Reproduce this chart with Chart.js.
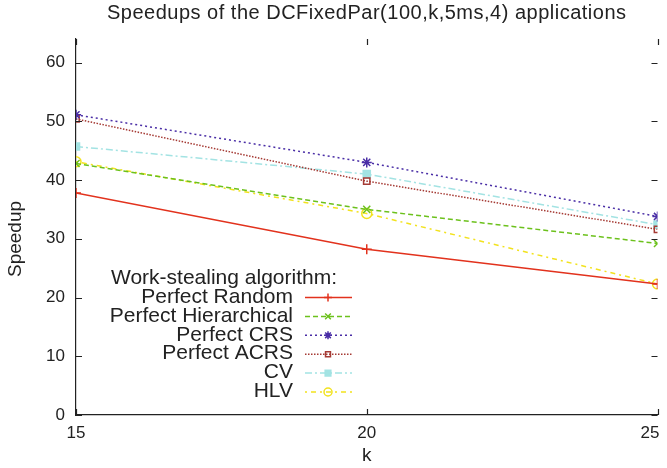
<!DOCTYPE html>
<html lang="en">
<head>
    <meta charset="UTF-8">
    <title>Speedups of the DCFixedPar applications</title>
    <script src="https://cdn.jsdelivr.net/npm/chart.js"></script>
    <style>
        html, body { margin: 0; padding: 0; background: #fff; }
        #wrap { width: 667px; height: 468px; position: relative; }
    </style>
</head>
<body>
<div id="wrap"><canvas id="speedChart"></canvas></div>

<script>
// Data
const kValues = [15, 20, 25];
const xTicks = [15, 20, 25];
const yTicks = [0, 10, 20, 30, 40, 50, 60];

const perfectRandom = [37.8, 28.2, 22.3];
const perfectHierarchical = [42.8, 35.0, 29.2];
const perfectCRS = [51.1, 43.0, 33.8];
const perfectACRS = [50.4, 39.8, 31.6];
const cvValues = [45.7, 41.0, 32.4];
const hlvValues = [43.1, 34.3, 22.3];

const seriesNames = ["Perfect Random", "Perfect Hierarchical", "Perfect CRS", "Perfect ACRS", "CV", "HLV"];

const FONT = "'Liberation Sans', Arial, sans-serif";
const LEFT = 76, RIGHT = 657.5, TOP = 39, BOTTOM = 415;

function pts(vals) {
    return vals.map((v, i) => ({ x: kValues[i], y: v }));
}

function makeSet(label, vals, color, dash, style, fill, radius) {
    return {
        label: label,
        data: pts(vals),
        borderColor: color,
        backgroundColor: fill ? color : "rgba(0,0,0,0)",
        pointBorderColor: color,
        pointBackgroundColor: fill ? color : "rgba(0,0,0,0)",
        borderWidth: 1.5,
        borderDash: dash,
        pointStyle: style,
        pointRadius: radius,
        pointBorderWidth: 1.5,
        tension: 0,
        fill: false
    };
}

const datasets = [
    makeSet(seriesNames[0], perfectRandom, "#e2321d", [], "cross", false, 5),
    makeSet(seriesNames[1], perfectHierarchical, "#6cc11c", [5, 3], "crossRot", false, 5),
    makeSet(seriesNames[2], perfectCRS, "#4a2ea6", [2, 3], "star", false, 5),
    makeSet(seriesNames[3], perfectACRS, "#a53a34", [1.5, 1.5], "rect", false, 4.5),
    makeSet(seriesNames[4], cvValues, "#a3e3e3", [7, 3, 2, 3], "rect", true, 5),
    makeSet(seriesNames[5], hlvValues, "#f2e21e", [2, 4, 5, 4], "circle", false, 5)
];

// gnuplot-like extras: inward ticks on all sides, x labels, titles, key
const gnuDecor = {
    id: "gnuDecor",
    afterDraw(chart) {
        const c = chart.ctx;
        const a = chart.chartArea;
        const xs = chart.scales.x, ys = chart.scales.y;
        c.save();
        c.strokeStyle = "#222";
        c.lineWidth = 1.2;
        c.beginPath();
        yTicks.forEach(v => {
            const y = Math.round(ys.getPixelForValue(v)) + 0.5;
            c.moveTo(a.left, y); c.lineTo(a.left + 6, y);
            c.moveTo(a.right, y); c.lineTo(a.right - 6, y);
        });
        xTicks.forEach(v => {
            const x = Math.round(xs.getPixelForValue(v)) + 0.5;
            c.moveTo(x, a.bottom); c.lineTo(x, a.bottom - 6);
            c.moveTo(x, a.top); c.lineTo(x, a.top + 6);
        });
        c.stroke();

        c.fillStyle = "#222";
        c.textAlign = "center";
        c.textBaseline = "middle";
        c.font = "17px " + FONT;
        xTicks.forEach(v => {
            const x = Math.min(xs.getPixelForValue(v), 667 - 17);
            c.fillText(String(v), x, 433);
        });

        c.font = "20px " + FONT;
        c.letterSpacing = "0.5px";
        c.fillText("Speedups of the DCFixedPar(100,k,5ms,4) applications", (a.left + a.right) / 2, 13);
        c.letterSpacing = "0px";
        c.font = "19px " + FONT;
        c.fillText("k", (a.left + a.right) / 2, 456);
        c.save();
        c.translate(16, 239);
        c.rotate(-Math.PI / 2);
        c.fillText("Speedup", 0, 0);
        c.restore();

        // key
        c.font = "21px " + FONT;
        c.textAlign = "right";
        c.fillText("Work-stealing algorithm:", 337, 278);
        chart.data.datasets.forEach((ds, i) => {
            const y = 297 + i * 18.9;
            c.fillStyle = "#222";
            c.textAlign = "right";
            c.fillText(ds.label, 293, y);
            c.strokeStyle = ds.borderColor;
            c.lineWidth = 1.5;
            c.setLineDash(ds.borderDash);
            c.beginPath();
            c.moveTo(305, y + 0.5); c.lineTo(352, y + 0.5);
            c.stroke();
            c.setLineDash([]);
            c.fillStyle = ds.pointBackgroundColor;
            c.strokeStyle = ds.pointBorderColor;
            Chart.helpers.drawPoint(c, {
                pointStyle: ds.pointStyle,
                radius: ds.pointRadius - 1,
                borderWidth: ds.pointBorderWidth,
                rotation: 0
            }, 328, y + 0.5);
        });
        c.restore();
    }
};

new Chart(document.getElementById("speedChart"), {
    type: "line",
    data: { datasets: datasets },
    plugins: [gnuDecor],
    options: {
        responsive: true,
        maintainAspectRatio: false,
        animation: false,
        layout: { padding: { top: TOP, right: 667 - RIGHT, left: 0, bottom: 0 } },
        plugins: {
            legend: { display: false },
            title: { display: false },
            tooltip: { enabled: false }
        },
        scales: {
            x: {
                type: "linear",
                min: 15,
                max: 25,
                afterBuildTicks: s => { s.ticks = xTicks.map(v => ({ value: v })); },
                afterFit: s => { s.height = 468 - BOTTOM; },
                grid: { display: false, drawTicks: false },
                border: { display: true, color: "#222", width: 1.2 },
                ticks: { display: false }
            },
            y: {
                min: 0,
                max: 64,
                afterBuildTicks: s => { s.ticks = yTicks.map(v => ({ value: v })); },
                afterFit: s => { s.width = LEFT; },
                grid: { display: false, drawTicks: false },
                border: { display: true, color: "#222", width: 1.2 },
                ticks: { color: "#222", padding: 11, font: { family: FONT, size: 17 } }
            }
        }
    }
});
</script>
</body>
</html>
